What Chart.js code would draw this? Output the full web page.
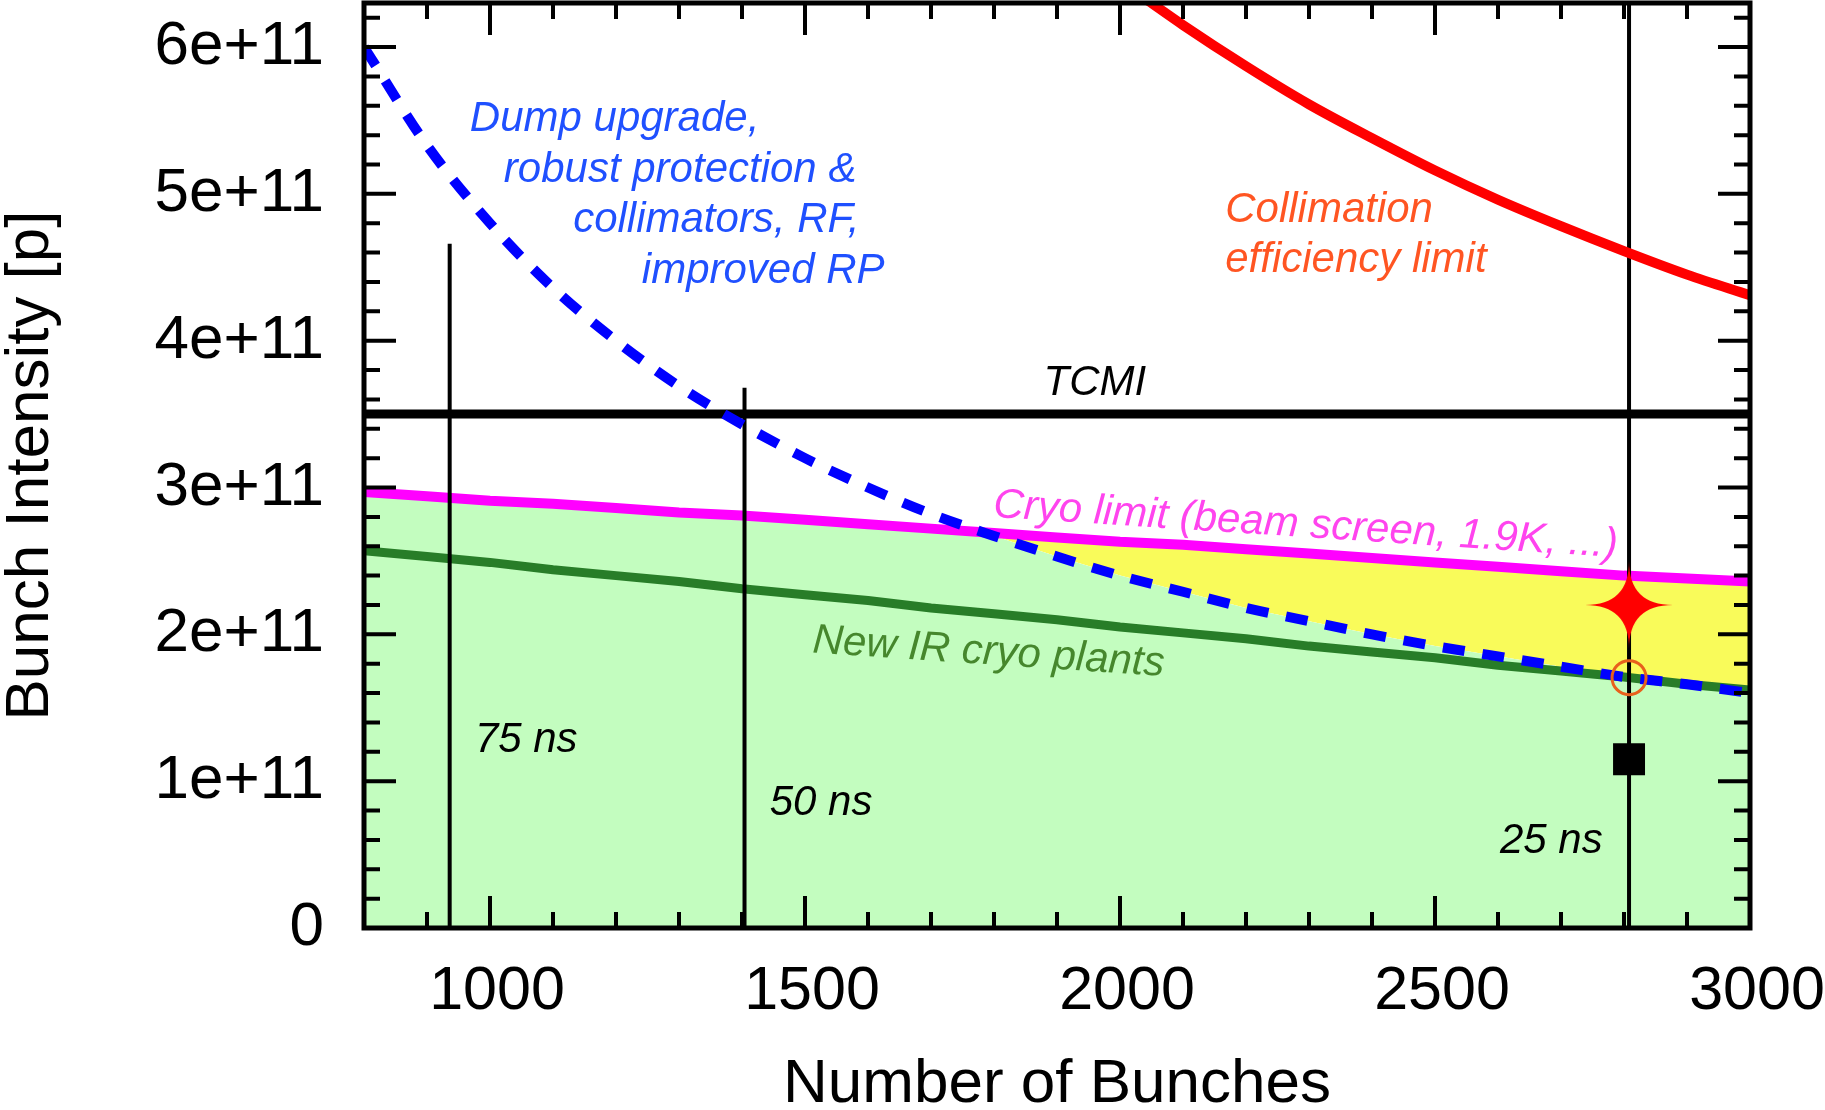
<!DOCTYPE html>
<html>
<head>
<meta charset="utf-8">
<title>Bunch intensity limits</title>
<script src="https://cdn.jsdelivr.net/npm/chart.js@4.4.1/dist/chart.umd.min.js"></script>
<style>
  html, body { margin: 0; padding: 0; background: #fff; }
  #limits { display: block; }
</style>
</head>
<body>
<canvas id="limits" width="1825" height="1110"></canvas>
<script>
// intensities in units of 1e11 protons per bunch
const bunchGrid   = [800, 900, 1000, 1100, 1200, 1300, 1400, 1500, 1600, 1700, 1800, 1900,
                     2000, 2100, 2200, 2300, 2400, 2500, 2600, 2700, 2800, 2900, 3000];
const dumpUpgrade = [6.00, 5.33, 4.80, 4.36, 4.00, 3.69, 3.43, 3.20, 3.00, 2.82, 2.67, 2.53,
                     2.40, 2.29, 2.18, 2.09, 2.00, 1.92, 1.85, 1.78, 1.71, 1.66, 1.60];
const cryoLimit   = [2.97, 2.94, 2.91, 2.89, 2.86, 2.83, 2.81, 2.78, 2.75, 2.72, 2.69, 2.66,
                     2.63, 2.61, 2.58, 2.55, 2.52, 2.49, 2.46, 2.43, 2.40, 2.38, 2.36];
const newIrCryo   = [2.57, 2.53, 2.49, 2.44, 2.40, 2.36, 2.31, 2.27, 2.23, 2.18, 2.14, 2.10,
                     2.05, 2.01, 1.97, 1.92, 1.88, 1.84, 1.79, 1.75, 1.71, 1.66, 1.62];

const collimationBunches = [2040, 2100, 2200, 2300, 2400, 2500, 2600, 2700, 2800, 2900, 3000];
const collimationLimit   = [6.33, 6.15, 5.87, 5.61, 5.38, 5.16, 4.96, 4.78, 4.61, 4.45, 4.31];

const tcmiLimit = 3.5;

// bunch spacing scenarios: number of bunches and how far up the marker line runs
const spacingBunches = [936, 1404, 2808];
const spacingTops    = [4.66, 3.68, 6.3];

const nominalBunches   = 2808;
const upgradeTarget    = 2.2;   // red star
const cryoCrossing     = 1.705; // open circle
const nominalIntensity = 1.15;  // black square

const xTickValues = [1000, 1500, 2000, 2500, 3000];
const yTickValues = [0, 1, 2, 3, 4, 5, 6];

const xMin = 800, xMax = 3000;
const yMin = 0, yMax = 6.3;

const FONT = '"Liberation Sans", Arial, Helvetica, sans-serif';
const BLUE_TEXT = '#1f50ff';
const GREEN_FILL = '#c3fdbf';
const YELLOW_FILL = '#f9fb5a';

// text annotations, anchored at data coordinates (left end of baseline)
const notes = [
  { text: 'Dump upgrade,',        x: 968,  y: 5.43, color: BLUE_TEXT },
  { text: 'robust protection &',  x: 1022, y: 5.08, color: BLUE_TEXT },
  { text: 'collimators, RF,',     x: 1132, y: 4.74, color: BLUE_TEXT },
  { text: 'improved RP',          x: 1241, y: 4.39, color: BLUE_TEXT },
  { text: 'Collimation',          x: 2167, y: 4.81, color: '#ff5522' },
  { text: 'efficiency limit',     x: 2167, y: 4.47, color: '#ff5522' },
  { text: 'TCMI',                 x: 1960, y: 3.63, color: '#000', align: 'center' },
  { text: 'Cryo limit (beam screen, 1.9K, ...)', x: 1798, y: 2.80, color: '#ff44ee', angle: 3.7 },
  { text: 'New IR cryo plants',   x: 1511, y: 1.876, color: '#46872d', angle: 3.8 },
  { text: '75 ns',                x: 976,  y: 1.20, color: '#000' },
  { text: '50 ns',                x: 1444, y: 0.77, color: '#000' },
  { text: '25 ns',                x: 2603, y: 0.51, color: '#000' }
];

function pairs(xs, ys) {
  return xs.map((x, i) => ({ x: x, y: ys[i] }));
}

// four-pointed star with concave sides
function starImage(outer, color) {
  const c = document.createElement('canvas');
  c.width = c.height = outer * 2;
  const g = c.getContext('2d');
  const o = outer;
  const tips = [[o, 0], [2 * o, o], [o, 2 * o], [0, o]];
  g.fillStyle = color;
  g.beginPath();
  g.moveTo(tips[0][0], tips[0][1]);
  for (let k = 0; k < 4; k++) {
    const next = tips[(k + 1) % 4];
    g.quadraticCurveTo(o, o, next[0], next[1]);
  }
  g.closePath();
  g.fill();
  return c;
}

const notesPlugin = {
  id: 'notes',
  afterDatasetsDraw(chart) {
    const { ctx, scales: { x, y } } = chart;
    ctx.save();
    ctx.font = 'italic 42px ' + FONT;
    ctx.textBaseline = 'alphabetic';
    notes.forEach(n => {
      ctx.save();
      ctx.translate(x.getPixelForValue(n.x), y.getPixelForValue(n.y));
      ctx.rotate((n.angle || 0) * Math.PI / 180);
      ctx.fillStyle = n.color;
      ctx.textAlign = n.align || 'left';
      ctx.fillText(n.text, 0, 0);
      ctx.restore();
    });
    ctx.restore();
  }
};

// inward ticks on all four sides plus the heavy frame
const framePlugin = {
  id: 'frame',
  afterDraw(chart) {
    const { ctx, chartArea: a, scales: { x, y } } = chart;
    ctx.save();
    ctx.strokeStyle = '#000';
    ctx.lineCap = 'butt';
    ctx.lineWidth = 4;
    ctx.beginPath();
    for (let v = 900; v < xMax; v += 100) {
      const px = x.getPixelForValue(v);
      const len = v % 500 === 0 ? 32 : 16;
      ctx.moveTo(px, a.bottom); ctx.lineTo(px, a.bottom - len);
      ctx.moveTo(px, a.top);    ctx.lineTo(px, a.top + len);
    }
    for (let i = 1; i * 0.2 < yMax; i++) {
      const py = y.getPixelForValue(i * 0.2);
      const len = i % 5 === 0 ? 32 : 16;
      ctx.moveTo(a.left, py);  ctx.lineTo(a.left + len, py);
      ctx.moveTo(a.right, py); ctx.lineTo(a.right - len, py);
    }
    ctx.stroke();
    ctx.lineWidth = 5;
    ctx.strokeRect(a.left, a.top, a.right - a.left, a.bottom - a.top);
    ctx.restore();
  }
};

const lineBase = { showLine: true, pointRadius: 0, borderJoinStyle: 'round', fill: false };

const datasets = [
  // 0: lower envelope, filled light green down to zero
  { ...lineBase,
    data: bunchGrid.map((n, i) => ({ x: n, y: Math.min(dumpUpgrade[i], cryoLimit[i]) })),
    borderWidth: 0, borderColor: 'rgba(0,0,0,0)',
    backgroundColor: GREEN_FILL, fill: 'origin', order: 20 },
  // 1: cryo limit, yellow band down to the envelope
  { ...lineBase, data: pairs(bunchGrid, cryoLimit),
    borderColor: '#ff00ff', borderWidth: 10,
    fill: { target: 0, above: YELLOW_FILL, below: 'rgba(0,0,0,0)' }, order: 15 },
  // 2: new IR cryo plants
  { ...lineBase, data: pairs(bunchGrid, newIrCryo),
    borderColor: '#287d28', borderWidth: 9, order: 14 }
];

spacingBunches.forEach((n, i) => {
  datasets.push({ ...lineBase, data: [{ x: n, y: 0 }, { x: n, y: spacingTops[i] }],
    borderColor: '#000', borderWidth: 4, order: 12 });
});

datasets.push(
  { ...lineBase, data: pairs(bunchGrid, dumpUpgrade),
    borderColor: '#0000ff', borderWidth: 10, borderDash: [22, 18], borderCapStyle: 'butt',
    cubicInterpolationMode: 'monotone', order: 10 },
  { ...lineBase, data: [{ x: xMin, y: tcmiLimit }, { x: xMax, y: tcmiLimit }],
    borderColor: '#000', borderWidth: 9, order: 11 },
  { ...lineBase, data: pairs(collimationBunches, collimationLimit),
    borderColor: '#ff0000', borderWidth: 10, cubicInterpolationMode: 'monotone', order: 9 },
  { data: [{ x: nominalBunches, y: nominalIntensity }], showLine: false,
    pointStyle: 'rect', pointRadius: 22.6, backgroundColor: '#000', borderWidth: 0, order: 3 },
  { data: [{ x: nominalBunches, y: upgradeTarget }], showLine: false,
    pointStyle: starImage(44, '#ff0000'), pointRadius: 44, order: 2 },
  { data: [{ x: nominalBunches, y: cryoCrossing }], showLine: false,
    pointStyle: 'circle', pointRadius: 17, borderColor: '#e8601c', borderWidth: 3,
    backgroundColor: 'rgba(0,0,0,0)', order: 1 }
);

new Chart(document.getElementById('limits'), {
  type: 'scatter',
  data: { datasets: datasets },
  plugins: [notesPlugin, framePlugin],
  options: {
    responsive: false,
    animation: false,
    devicePixelRatio: 1,
    layout: { autoPadding: false, padding: { top: 3, right: 75, left: 0, bottom: 0 } },
    plugins: {
      legend: { display: false },
      tooltip: { enabled: false },
      filler: { drawTime: 'beforeDatasetsDraw' }
    },
    scales: {
      x: {
        type: 'linear', min: xMin, max: xMax,
        grid: { display: false, drawTicks: false },
        border: { display: false },
        ticks: { padding: 34, labelOffset: 7, color: '#000', autoSkip: false, maxRotation: 0,
                 font: { family: FONT, size: 61, lineHeight: 1 },
                 callback: v => String(v) },
        title: { display: true, text: 'Number of Bunches', color: '#000', padding: 0,
                 font: { family: FONT, size: 62, lineHeight: 0.8 } },
        afterBuildTicks(scale) { scale.ticks = xTickValues.map(v => ({ value: v })); },
        afterFit(scale) {
          scale.height = 182;
          scale.paddingLeft = 0;
          scale.paddingRight = 0;
        }
      },
      y: {
        type: 'linear', min: yMin, max: yMax,
        grid: { display: false, drawTicks: false },
        border: { display: false },
        ticks: { padding: 40, color: '#000', autoSkip: false,
                 font: { family: FONT, size: 62, lineHeight: 1 },
                 callback: v => v === 0 ? '0' : v + 'e+11' },
        title: { display: true, text: 'Bunch Intensity [p]', color: '#000', padding: 0,
                 font: { family: FONT, size: 62, lineHeight: 1 } },
        afterBuildTicks(scale) { scale.ticks = yTickValues.map(v => ({ value: v })); },
        afterFit(scale) {
          scale.width = 364;
          scale.paddingTop = 0;
          scale.paddingBottom = 0;
        }
      }
    }
  }
});
</script>
</body>
</html>
